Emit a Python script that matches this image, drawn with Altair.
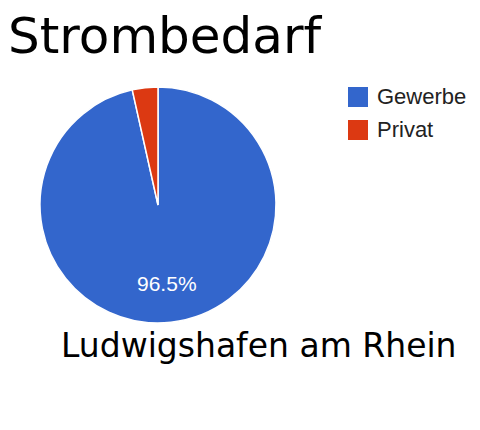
import altair as alt
import pandas as pd

TITLE = "Strombedarf"
SUBTITLE = "Ludwigshafen am Rhein"
categories = ["Gewerbe", "Privat"]
values = [96.5, 3.5]
labels = ["96.5%", ""]
colors = ["#3366CC", "#DC3912"]

df = pd.DataFrame({
    "cat": categories,
    "val": values,
    "lab": labels,
    "idx": list(range(len(categories))),
})

CX, CY, R = 150, 197, 118

base = alt.Chart(df)

pie = base.mark_arc(radius=R, stroke="white", strokeWidth=1.5).encode(
    theta=alt.Theta("val:Q", stack=True),
    order=alt.Order("idx:Q"),
    color=alt.Color(
        "cat:N",
        scale=alt.Scale(domain=categories, range=colors),
        sort=categories,
        legend=alt.Legend(
            title=None,
            orient="none",
            legendX=339,
            legendY=78,
            symbolType="square",
            symbolSize=400,
            symbolStrokeWidth=0,
            labelFont="Liberation Sans",
            labelFontSize=22,
            labelColor="#222222",
            labelOffset=8,
            rowPadding=11,
        ),
    ),
    x=alt.value(CX),
    y=alt.value(CY),
)

pct = base.mark_text(
    radius=80, color="white", font="Liberation Sans", fontSize=21
).encode(
    theta=alt.Theta("val:Q", stack=True),
    order=alt.Order("idx:Q"),
    detail="cat:N",
    text="lab:N",
    x=alt.value(CX),
    y=alt.value(CY),
)

title = alt.Chart(pd.DataFrame({"t": [TITLE]})).mark_text(
    align="left", baseline="alphabetic", font="DejaVu Sans", fontSize=50,
    color="black"
).encode(text="t:N", x=alt.value(0), y=alt.value(45))

sub = alt.Chart(pd.DataFrame({"t": [SUBTITLE]})).mark_text(
    align="left", baseline="alphabetic", font="DejaVu Sans", fontSize=33, color="black"
).encode(text="t:N", x=alt.value(53), y=alt.value(349))

chart = alt.layer(pie, pct, title, sub).properties(
    width=464,
    height=414,
    autosize=alt.AutoSizeParams(type="none"),
    padding={"left": 0, "top": 0, "right": 0, "bottom": 0},
).configure(background="white").configure_view(stroke=None)

chart.save("out.html", embed_options={"renderer": "svg", "actions": False})
